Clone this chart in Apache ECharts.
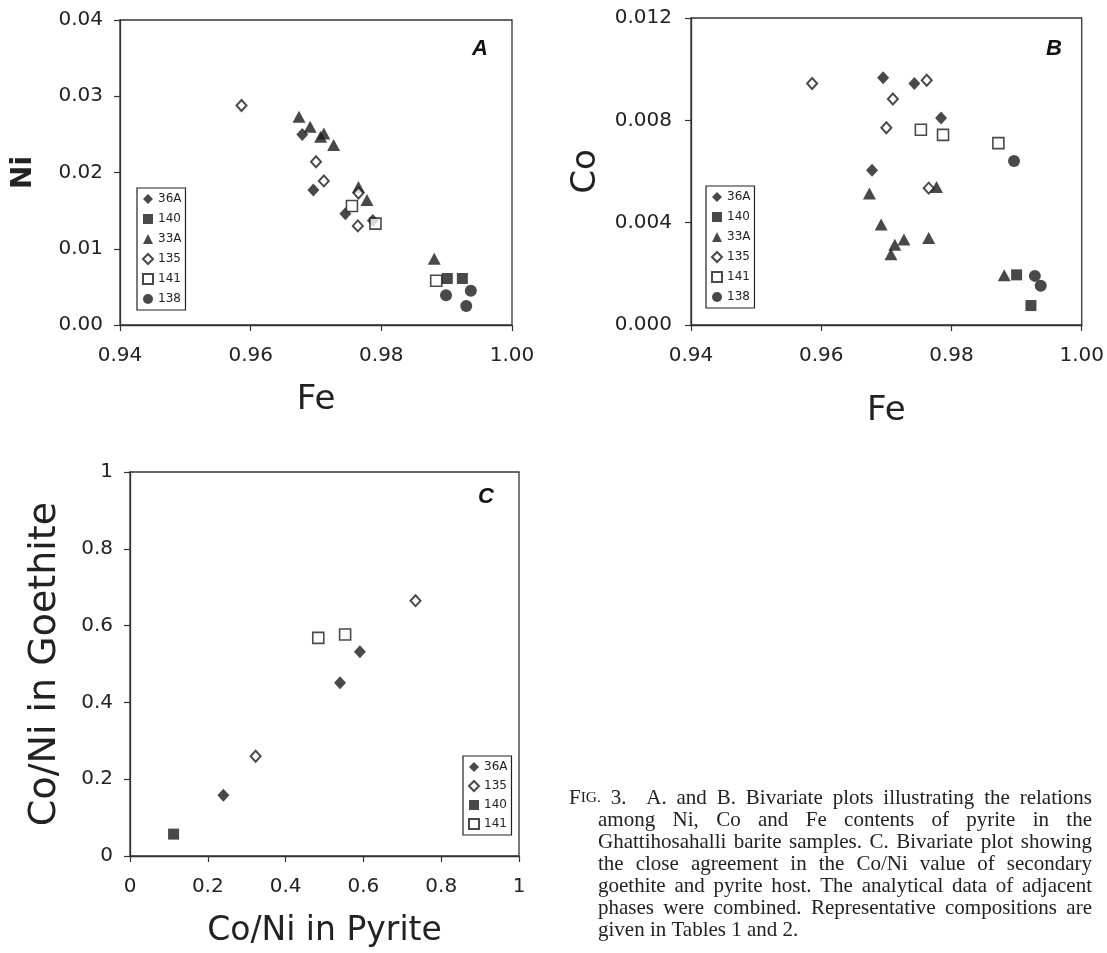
<!DOCTYPE html>
<html>
<head>
<meta charset="utf-8">
<script src="https://cdn.jsdelivr.net/npm/echarts@6/dist/echarts.min.js"></script>
<style>
html, body {margin: 0; padding: 0; background: #fff;}
#chart {width: 1107px; height: 953px;}
</style>
</head>
<body>
<div id="chart"></div>
<script>
// Panel A: Fe vs Ni (pyrite)
var a_36A = [[0.9679, 0.0250], [0.9696, 0.0177], [0.9745, 0.0146], [0.9787, 0.0137]];
var a_140 = [[0.9901, 0.0061], [0.9924, 0.0061]];
var a_33A = [[0.9674, 0.0273], [0.9691, 0.0260], [0.9707, 0.0247], [0.9712, 0.0251], [0.9727, 0.0236], [0.9765, 0.0181], [0.9778, 0.0164], [0.9881, 0.0087]];
var a_135 = [[0.9586, 0.0288], [0.9700, 0.0214], [0.9712, 0.0189], [0.9765, 0.0173], [0.9764, 0.0130]];
var a_141 = [[0.9755, 0.0156], [0.9791, 0.0133], [0.9884, 0.0058]];
var a_138 = [[0.9899, 0.0039], [0.9937, 0.0045], [0.9930, 0.0025]];

// Panel B: Fe vs Co (pyrite)
var b_36A = [[0.9695, 0.00966], [0.9743, 0.00944], [0.9784, 0.00809], [0.9678, 0.00605]];
var b_140 = [[0.9900, 0.00196], [0.9922, 0.00076]];
var b_33A = [[0.9674, 0.00514], [0.9692, 0.00393], [0.9707, 0.00277], [0.9713, 0.00314], [0.9727, 0.00334], [0.9765, 0.00340], [0.9777, 0.00539], [0.9881, 0.00194]];
var b_135 = [[0.9586, 0.00944], [0.9710, 0.00883], [0.9700, 0.00771], [0.9762, 0.00957], [0.9765, 0.00535]];
var b_141 = [[0.9753, 0.00763], [0.9787, 0.00743], [0.9872, 0.00711]];
var b_138 = [[0.9896, 0.00641], [0.9928, 0.00192], [0.9937, 0.00153]];

// Panel C: Co/Ni pyrite vs Co/Ni goethite
var c_36A = [[0.240, 0.158], [0.540, 0.451], [0.591, 0.532]];
var c_135 = [[0.323, 0.260], [0.734, 0.665]];
var c_140 = [[0.112, 0.057]];
var c_141 = [[0.484, 0.568], [0.553, 0.577]];

var names_ab = ['36A', '140', '33A', '135', '141', '138'];
var names_c = ['36A', '135', '140', '141'];

var caption_lines = [
    'FIG. 3.  A. and B. Bivariate plots illustrating the relations',
    'among Ni, Co and Fe contents of pyrite in the',
    'Ghattihosahalli barite samples. C. Bivariate plot showing',
    'the close agreement in the Co/Ni value of secondary',
    'goethite and pyrite host. The analytical data of adjacent',
    'phases were combined. Representative compositions are',
    'given in Tables 1 and 2.'
];

var ink = '#1c1c1c';
var sans = 'DejaVu Sans';
var marks = {
    '36A': {symbol: 'diamond', symbolSize: [12, 13], itemStyle: {color: ink}},
    '140': {symbol: 'rect', symbolSize: 11, itemStyle: {color: ink}},
    '33A': {symbol: 'triangle', symbolSize: [13, 12], itemStyle: {color: ink}},
    '135': {symbol: 'diamond', symbolSize: [10, 11], itemStyle: {color: '#fff', borderColor: ink, borderWidth: 2}},
    '141': {symbol: 'rect', symbolSize: 11, itemStyle: {color: '#fff', borderColor: ink, borderWidth: 1.6}},
    '138': {symbol: 'circle', symbolSize: 12, itemStyle: {color: ink}}
};

function make_series(sets, names, idx) {
    return names.map(function (n, k) {
        return Object.assign({type: 'scatter', name: n, xAxisIndex: idx, yAxisIndex: idx, data: sets[k],
            silent: true, emphasis: {disabled: true}}, marks[n]);
    });
}

function make_axis(idx, min, max, interval, digits, name, name_size, name_gap, label_margin, extra) {
    return Object.assign({
        gridIndex: idx, type: 'value', min: min, max: max, interval: interval,
        name: name, nameLocation: 'middle', nameGap: name_gap,
        nameTextStyle: {fontFamily: sans, fontSize: name_size, color: '#222'},
        axisLine: {show: true, lineStyle: {color: '#333', width: 1.3}},
        axisTick: {show: true, inside: false, length: 6, lineStyle: {color: '#333', width: 1.2}},
        axisLabel: {margin: label_margin, fontFamily: sans, fontSize: 20, color: '#222',
            formatter: function (v) { return digits === null ? String(+v.toFixed(1)) : v.toFixed(digits); }},
        splitLine: {show: false}
    }, extra || {});
}

function make_legend(names, left, top, gap) {
    return {
        data: names, orient: 'vertical', left: left, top: top, itemGap: gap,
        itemWidth: 10, itemHeight: 10, itemTextGap: 3, padding: [5, 4, 5, 5],
        borderColor: '#222', borderWidth: 1.2, selectedMode: false,
        textStyle: {fontFamily: sans, fontSize: 12, color: '#222'}
    };
}

// caption, justified word by word
var measure_ctx = document.createElement('canvas').getContext('2d');
function text_width(str, size) {
    measure_ctx.font = size + 'px Liberation Serif';
    return measure_ctx.measureText(str).width;
}
var cap_size = 21, cap_small = 15.5;
var caption_els = [];
caption_lines.forEach(function (line, i) {
    var words = line.split(' ');
    var left = i === 0 ? 569 : 598;
    var right = 1092;
    var widths = words.map(function (w) {
        return w === 'FIG.' ? text_width('F', cap_size) + text_width('IG.', cap_small) : text_width(w, cap_size);
    });
    var total = widths.reduce(function (a, b) { return a + b; }, 0);
    var gap = i < caption_lines.length - 1 ? (right - left - total) / (words.length - 1) : text_width(' ', cap_size);
    var x = left;
    words.forEach(function (w, j) {
        if (w) {
            var st = {text: w, fontFamily: 'Liberation Serif', fontSize: cap_size, fill: '#222', verticalAlign: 'middle'};
            if (w === 'FIG.') {
                st.text = '{a|F}{b|IG.}';
                st.rich = {a: {fontFamily: 'Liberation Serif', fontSize: cap_size, fill: '#222'},
                           b: {fontFamily: 'Liberation Serif', fontSize: cap_small, fill: '#222'}};
            }
            caption_els.push({type: 'text', x: x, y: 798 + i * 22, silent: true, style: st});
        }
        x += widths[j] + gap;
    });
});

function letter(t, x, y) {
    return {type: 'text', x: x, y: y, silent: true,
        style: {text: t, fontFamily: 'Liberation Sans', fontSize: 22, fontWeight: 'bold', fontStyle: 'italic',
            fill: '#111', verticalAlign: 'middle'}};
}

var chart_el = document.getElementById('chart');
var chart = echarts.init(chart_el);
var grid_box = {show: true, borderColor: '#333', borderWidth: 1.3, backgroundColor: 'transparent'};
chart.setOption({
    animation: false,
    backgroundColor: '#fff',
    grid: [
        Object.assign({left: 120, top: 20, width: 392, height: 305}, grid_box),
        Object.assign({left: 691, top: 18, width: 393, height: 307}, grid_box),
        Object.assign({left: 130, top: 472, width: 389, height: 384}, grid_box)
    ],
    xAxis: [
        make_axis(0, 0.94, 1.00, 0.02, 2, 'Fe', 34, 58, 21),
        make_axis(1, 0.94, 1.00, 0.02, 2, 'Fe', 34, 69, 21),
        make_axis(2, 0, 1, 0.2, null, 'Co/Ni in Pyrite', 33, 59, 21)
    ],
    yAxis: [
        make_axis(0, 0, 0.04, 0.01, 2, 'Ni', 28, 82, 17, {nameTextStyle: {fontFamily: sans, fontSize: 28, fontWeight: 'bold', color: '#222'}}),
        make_axis(1, 0, 0.012, 0.004, 3, 'Co', 34, 88, 19),
        make_axis(2, 0, 1, 0.2, null, 'Co/Ni in Goethite', 38, 66, 17)
    ],
    legend: [
        make_legend(names_ab, 137, 188, 8),
        make_legend(names_ab, 706, 186, 8),
        make_legend(names_c, 463, 756, 7)
    ],
    graphic: [letter('A', 472, 49), letter('B', 1046, 49), letter('C', 478, 497)].concat(caption_els),
    series: [].concat(
        make_series([a_36A, a_140, a_33A, a_135, a_141, a_138], names_ab, 0),
        make_series([b_36A, b_140, b_33A, b_135, b_141, b_138], names_ab, 1),
        make_series([c_36A, c_135, c_140, c_141], names_c, 2)
    )
});
</script>
</body>
</html>
